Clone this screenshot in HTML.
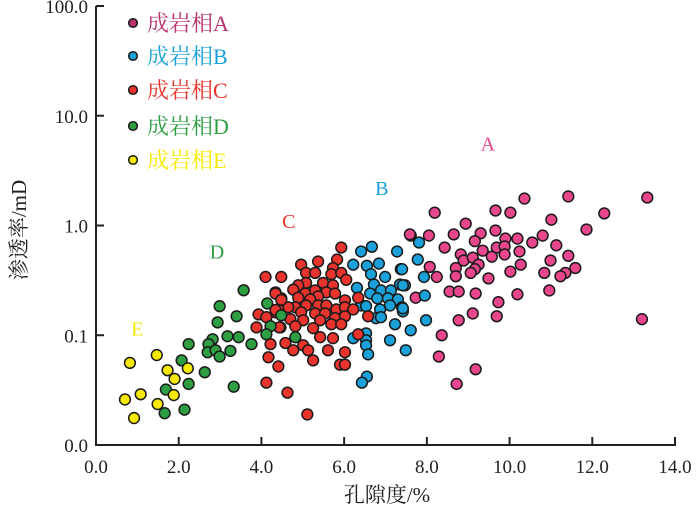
<!DOCTYPE html>
<html><head><meta charset="utf-8"><style>
body{margin:0;background:#fff;}
svg{display:block;font-family:"Liberation Serif","Noto Serif CJK SC",serif;}
</style></head><body>
<svg id="chart" width="700" height="508" viewBox="0 0 700 508" xmlns="http://www.w3.org/2000/svg"></svg>
<script>
const xTicks=[0,2,4,6,8,10,12,14];
const xTickLabels=["0.0","2.0","4.0","6.0","8.0","10.0","12.0","14.0"];
const yTicks=[0.01,0.1,1,10,100];
const yTickLabels=["0.0","0.1","1.0","10.0","100.0"];
const seriesNames=["成岩相A","成岩相B","成岩相C","成岩相D","成岩相E"];
const seriesColors=["#e8468c","#1ba1da","#e8342c","#2e9e43","#f7ea00"];
const legendColors=["#b8336f","#1ba1da","#e8342c","#2e9e43","#f7ea00"];
const seriesA=[[8.19,1.31],[8.94,1.04],[9.66,1.37],[10.02,1.31],[10.36,1.76],[11.42,1.84],[12.29,1.29],[13.33,1.80],[11.01,1.13],[11.86,0.92],[7.61,0.81],[8.05,0.81],[8.65,0.83],[9.30,0.85],[9.66,0.90],[9.16,0.72],[9.90,0.76],[10.19,0.76],[10.55,0.70],[10.80,0.81],[8.43,0.63],[8.82,0.545],[8.89,0.48],[9.11,0.51],[9.35,0.59],[9.57,0.52],[9.69,0.63],[9.88,0.645],[9.88,0.545],[10.24,0.58],[11.13,0.66],[11.42,0.53],[10.99,0.48],[9.25,0.44],[10.27,0.44],[8.07,0.42],[8.70,0.41],[9.16,0.40],[9.06,0.37],[8.70,0.345],[8.24,0.34],[9.49,0.33],[10.02,0.38],[10.84,0.37],[11.35,0.37],[11.59,0.41],[11.23,0.345],[7.73,0.22],[8.55,0.25],[8.77,0.25],[9.18,0.24],[10.19,0.236],[10.96,0.256],[9.73,0.20],[9.11,0.158],[8.77,0.137],[9.69,0.149],[8.36,0.10],[8.29,0.064],[9.18,0.049],[8.72,0.036],[13.2,0.14],[7.59,0.83]];
const seriesB=[[6.41,0.58],[6.67,0.64],[7.28,0.58],[6.22,0.44],[6.55,0.43],[6.84,0.45],[7.37,0.40],[6.65,0.36],[6.99,0.34],[7.35,0.29],[7.47,0.285],[6.31,0.27],[6.72,0.29],[6.63,0.24],[6.89,0.256],[7.13,0.256],[6.80,0.217],[7.06,0.217],[7.30,0.212],[6.41,0.187],[6.53,0.184],[6.87,0.172],[7.11,0.187],[7.40,0.18],[7.42,0.165],[6.77,0.143],[6.89,0.146],[7.23,0.126],[6.53,0.104],[6.22,0.094],[6.53,0.090],[7.11,0.090],[7.61,0.111],[6.53,0.081],[6.58,0.067],[7.49,0.073],[6.55,0.042],[6.43,0.037],[7.81,0.70],[7.78,0.49],[7.40,0.40],[7.93,0.34],[7.42,0.285],[7.95,0.23],[7.42,0.176],[7.98,0.137]];
const seriesC=[[5.93,0.63],[5.37,0.47],[4.96,0.44],[5.83,0.49],[5.08,0.37],[5.30,0.37],[5.73,0.41],[5.69,0.36],[5.93,0.37],[4.10,0.34],[4.48,0.34],[5.08,0.30],[5.49,0.30],[5.73,0.285],[6.05,0.32],[4.89,0.285],[4.77,0.26],[4.34,0.246],[4.48,0.217],[5.06,0.24],[5.30,0.256],[5.57,0.246],[5.78,0.24],[5.37,0.226],[4.89,0.22],[5.18,0.212],[6.02,0.208],[6.34,0.22],[4.82,0.18],[5.08,0.187],[5.37,0.187],[5.57,0.187],[5.81,0.172],[4.65,0.18],[4.41,0.172],[3.93,0.155],[4.34,0.162],[4.96,0.162],[5.30,0.158],[5.54,0.158],[6.02,0.18],[6.22,0.172],[4.12,0.146],[4.70,0.14],[5.01,0.137],[5.42,0.137],[5.78,0.143],[6.02,0.149],[6.58,0.149],[3.88,0.118],[4.46,0.118],[4.82,0.121],[5.25,0.116],[5.69,0.126],[5.93,0.126],[6.34,0.102],[4.22,0.083],[4.58,0.085],[5.01,0.081],[5.42,0.096],[5.73,0.094],[4.17,0.063],[4.77,0.073],[5.13,0.073],[5.61,0.073],[6.02,0.07],[4.41,0.052],[5.25,0.059],[5.90,0.054],[6.02,0.054],[4.12,0.037],[4.63,0.030],[5.11,0.019],[4.34,0.24],[4.48,0.21],[4.34,0.17],[4.43,0.118]];
const seriesD=[[3.57,0.257],[2.99,0.184],[3.40,0.149],[2.94,0.131],[2.82,0.092],[3.18,0.098],[3.45,0.096],[3.76,0.083],[2.24,0.083],[2.72,0.083],[2.70,0.070],[2.89,0.073],[2.99,0.064],[3.25,0.072],[2.07,0.059],[2.63,0.046],[2.24,0.036],[1.69,0.032],[3.33,0.034],[1.66,0.0195],[2.14,0.021],[4.14,0.195],[4.22,0.121],[4.12,0.102],[4.48,0.152],[4.82,0.096]];
const seriesE=[[0.82,0.056],[1.47,0.066],[1.73,0.048],[2.22,0.050],[1.90,0.040],[1.88,0.0285],[1.08,0.029],[0.70,0.026],[1.49,0.0236],[0.92,0.0176]];
const allSeries=[seriesA,seriesB,seriesC,seriesD,seriesE];
const groupLabels=["A","B","C","D","E"];
const groupLabelPos=[[9.3,4.8],[6.75,1.9],[4.5,0.95],[2.75,0.5],[0.85,0.1]];

const svg=document.getElementById('chart');
const NS='http://www.w3.org/2000/svg';
const X0=96,X1=675,Y0=6,Y1=445;
function xs(v){return X0+(v-0)/(14-0)*(X1-X0);}
function ys(v){return Y1-(Math.log10(v)+2)/4*(Y1-Y0);}
function mk(tag,attrs){const e=document.createElementNS(NS,tag);for(const k in attrs)e.setAttribute(k,attrs[k]);svg.appendChild(e);return e;}

let a=mk('path',{d:`M${X0},${Y0} H${X0+8} M${X0},${Y0} V${Y1} H${X1} V${Y1-8}`,stroke:'#222',fill:'none','stroke-width':2});


xTicks.forEach((t,i)=>{
  const x=xs(t);
  const tk=mk('line',{x1:x,x2:x,y1:Y1,y2:Y1-8,stroke:'#222','stroke-width':2});
  
  
  const tx=mk('text',{x:x,y:Y1+28,'text-anchor':'middle','font-size':19,fill:'#222'});
  tx.textContent=xTickLabels[i];
  
  
});
yTicks.forEach((t,i)=>{
  const y=ys(t);
  const tk=mk('line',{x1:X0,x2:X0+8,y1:y,y2:y,stroke:'#222','stroke-width':2});
  
  
  const tx=mk('text',{x:X0-8,y:y+7,'text-anchor':'end','font-size':19,fill:'#222'});
  tx.textContent=yTickLabels[i];
  
  
});
let xt=mk('text',{x:387,y:502,'text-anchor':'middle','font-size':21,fill:'#222'});
xt.textContent='孔隙度/%';


let yt=mk('text',{x:0,y:0,'text-anchor':'middle','font-size':21,fill:'#222',transform:'translate(26,230) rotate(-90)'});
yt.textContent='渗透率/mD';



allSeries.forEach((s,si)=>{
  s.forEach(p=>{
    const c=mk('circle',{cx:xs(p[0]),cy:ys(p[1]),r:5.4,fill:seriesColors[si],stroke:'#1a1a1a','stroke-width':1.5});
    
    
  });
  const gp=groupLabelPos[si];
  const gl=mk('text',{x:xs(gp[0]),y:ys(gp[1]),'font-size':20,fill:seriesColors[si]});
  gl.textContent=groupLabels[si];
  
  
});
const legY=[23,56,90,126,160];
seriesNames.forEach((n,i)=>{
  const c=mk('circle',{cx:133,cy:legY[i],r:4.3,fill:legendColors[i],stroke:'#1a1a1a','stroke-width':1.5});
  
  
  const t=mk('text',{x:147,y:legY[i]+8,'font-size':22,fill:legendColors[i]});
  t.textContent=n;
  
  
});
</script>
</body></html>
